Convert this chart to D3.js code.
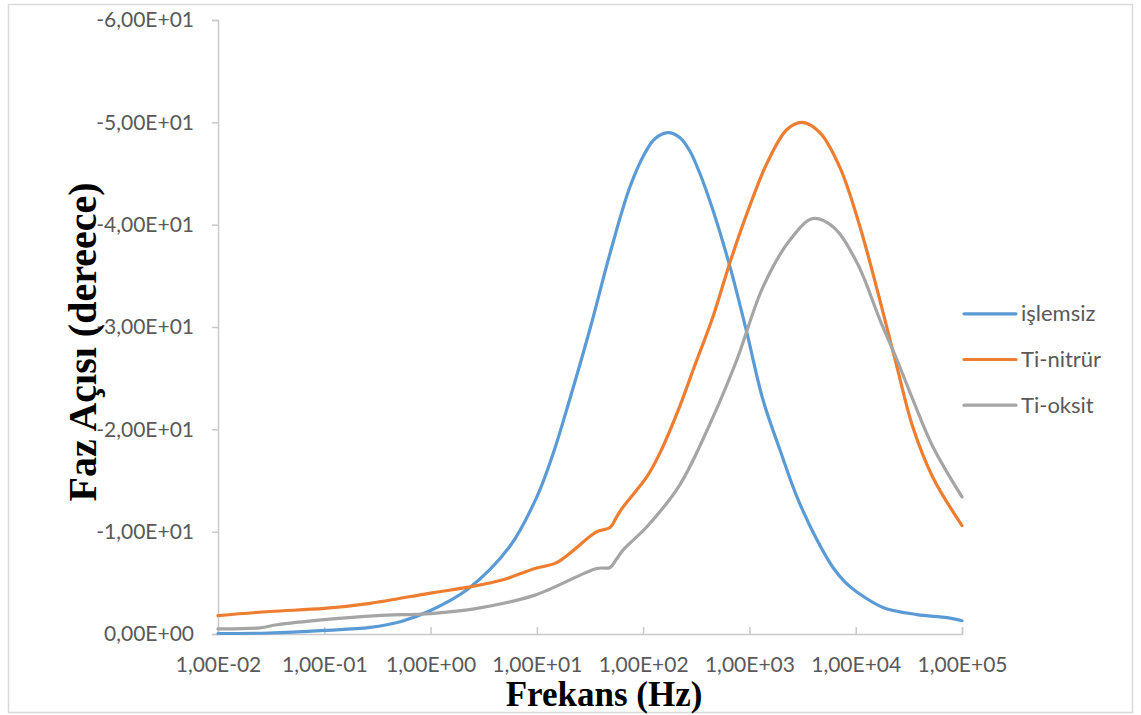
<!DOCTYPE html>
<html>
<head>
<meta charset="utf-8">
<script src="https://cdn.jsdelivr.net/npm/d3@7"></script>
<style>
  html, body { margin: 0; padding: 0; background: #ffffff; }
  svg { display: block; }
</style>
</head>
<body>
<svg id="chart" width="1141" height="715"></svg>
<script>
// Phase angle (degrees) versus frequency (Hz) for three surface conditions.

// işlemsiz (untreated)
const freqIslemsiz = [0.01, 0.03, 0.1, 0.27, 0.52, 1.0, 2.25, 5.6, 10, 14.2, 17.6, 31.6, 48.8, 75.2, 104, 129, 171, 222, 275, 342, 454, 656, 948, 1340, 1936, 2800, 4315, 6109, 7900, 10260, 18030, 37670, 72110, 100000];
const phaseIslemsiz = [-0.05, -0.1, -0.35, -0.65, -1.2, -2.3, -4.4, -8.6, -13.4, -17.6, -20.7, -29.8, -37.2, -43.7, -47.0, -48.4, -49.0, -48.5, -47.2, -45.0, -41.4, -35.9, -29.4, -22.9, -18.0, -13.4, -9.2, -6.5, -5.1, -4.1, -2.6, -1.9, -1.6, -1.3];

// Ti-nitrür
const freqNitrur = [0.01, 0.031, 0.1, 0.27, 1.0, 2.35, 4.8, 9.6, 15.5, 36.7, 48.8, 56, 64.6, 109, 144, 222, 300, 454, 656, 948, 1462, 2254, 3119, 4603, 7096, 10965, 16900, 24430, 34510, 53210, 100000];
const phaseNitrur = [-1.8, -2.2, -2.5, -3.0, -4.0, -4.6, -5.3, -6.4, -7.0, -10.0, -10.4, -11.4, -12.4, -15.4, -17.7, -22.3, -26.0, -31.0, -36.3, -41.1, -46.0, -49.3, -50.0, -49.0, -45.6, -39.8, -32.6, -26.1, -20.2, -15.3, -10.6];

// Ti-oksit
const freqOksit = [0.01, 0.0248, 0.036, 0.1, 0.313, 1.0, 2.74, 9.6, 36.7, 48.8, 56, 64.6, 109, 222, 454, 762, 1340, 2404, 3954, 6109, 10260, 16900, 24430, 34510, 53210, 100000];
const phaseOksit = [-0.5, -0.6, -0.9, -1.4, -1.8, -2.0, -2.5, -3.8, -6.4, -6.5, -7.3, -8.2, -10.5, -14.6, -21.2, -26.8, -33.9, -38.5, -40.6, -39.8, -36.3, -30.7, -26.8, -22.9, -18.3, -13.4];

const seriesNames = ["işlemsiz", "Ti-nitrür", "Ti-oksit"];
const seriesColors = ["#5B9BD5", "#ED7D31", "#A5A5A5"];

const xTickValues = [0.01, 0.1, 1, 10, 100, 1000, 10000, 100000];
const xTickLabels = ["1,00E-02", "1,00E-01", "1,00E+00", "1,00E+01", "1,00E+02", "1,00E+03", "1,00E+04", "1,00E+05"];
const yTickValues = [0, -10, -20, -30, -40, -50, -60];
const yTickLabels = ["0,00E+00", "-1,00E+01", "-2,00E+01", "-3,00E+01", "-4,00E+01", "-5,00E+01", "-6,00E+01"];

const xTitle = "Frekans (Hz)";
const yTitle = "Faz Açısı (dereece)";

const svg = d3.select("#chart");
const plot = { left: 218, right: 962, top: 20, bottom: 634 };

// outer chart frame
svg.append("rect")
  .attr("x", 8.5).attr("y", 4.5)
  .attr("width", 1124).attr("height", 708)
  .attr("fill", "#ffffff")
  .attr("stroke", "#D9D9D9").attr("stroke-width", 1.5);

const x = d3.scaleLog().domain([0.01, 100000]).range([plot.left, plot.right]);
const y = d3.scaleLinear().domain([0, -60]).range([plot.bottom, plot.top]);

const labelFont = "Lato, 'Liberation Sans', sans-serif";
const axisColor = "#C9C9C9";
const textColor = "#595959";

// vertical axis
const yAxis = d3.axisLeft(y)
  .tickValues(yTickValues)
  .tickSize(6)
  .tickPadding(18)
  .tickFormat((d, i) => yTickLabels[i]);
const gy = svg.append("g").attr("transform", `translate(${plot.left},0)`).call(yAxis);
gy.select(".domain").attr("stroke", axisColor).attr("stroke-width", 1.5);
gy.selectAll(".tick line").attr("stroke", axisColor).attr("stroke-width", 1.5);
gy.selectAll(".tick text")
  .attr("fill", textColor)
  .style("font-family", labelFont)
  .style("font-size", "21px");

// horizontal axis, ticks pointing into the plot
const xAxis = d3.axisBottom(x)
  .tickValues(xTickValues)
  .tickSize(-7)
  .tickPadding(0)
  .tickFormat((d, i) => xTickLabels[i]);
const gx = svg.append("g").attr("transform", `translate(0,${plot.bottom})`).call(xAxis);
gx.select(".domain").attr("stroke", axisColor).attr("stroke-width", 1.5);
gx.selectAll(".tick line").attr("stroke", axisColor).attr("stroke-width", 1.5);
gx.selectAll(".tick text")
  .attr("y", 38)
  .attr("dy", null)
  .attr("fill", textColor)
  .style("font-family", labelFont)
  .style("font-size", "21px");

// curves
const data = [
  freqIslemsiz.map((f, i) => [f, phaseIslemsiz[i]]),
  freqNitrur.map((f, i) => [f, phaseNitrur[i]]),
  freqOksit.map((f, i) => [f, phaseOksit[i]])
];
const line = d3.line()
  .x(d => x(d[0]))
  .y(d => y(d[1]))
  .curve(d3.curveCatmullRom.alpha(0.5));

svg.append("g").selectAll("path")
  .data(data)
  .join("path")
  .attr("d", line)
  .attr("fill", "none")
  .attr("stroke", (d, i) => seriesColors[i])
  .attr("stroke-width", 3.2)
  .attr("stroke-linejoin", "round")
  .attr("stroke-linecap", "round");

// legend
const legend = svg.append("g");
const legendY = d3.scaleBand().domain(seriesNames).range([291, 428]);
seriesNames.forEach((name, i) => {
  const cy = legendY(name) + legendY.bandwidth() / 2;
  legend.append("line")
    .attr("x1", 964).attr("x2", 1016)
    .attr("y1", cy).attr("y2", cy)
    .attr("stroke", seriesColors[i])
    .attr("stroke-width", 3.2)
    .attr("stroke-linecap", "round");
  legend.append("text")
    .attr("x", 1021).attr("y", cy + 7.5)
    .attr("fill", textColor)
    .style("font-family", labelFont)
    .style("font-size", "22px")
    .text(name);
});

// axis titles
svg.append("text")
  .attr("x", (plot.left + plot.right) / 2 + 14)
  .attr("y", 706)
  .attr("text-anchor", "middle")
  .style("font-family", "'Liberation Serif', 'Times New Roman', serif")
  .style("font-weight", "bold")
  .style("font-size", "35px")
  .attr("fill", "#000000")
  .text(xTitle);

svg.append("text")
  .attr("transform", "translate(96,342) rotate(-90)")
  .attr("text-anchor", "middle")
  .style("font-family", "'Liberation Serif', 'Times New Roman', serif")
  .style("font-weight", "bold")
  .style("font-size", "40px")
  .attr("fill", "#000000")
  .text(yTitle);
</script>
</body>
</html>
